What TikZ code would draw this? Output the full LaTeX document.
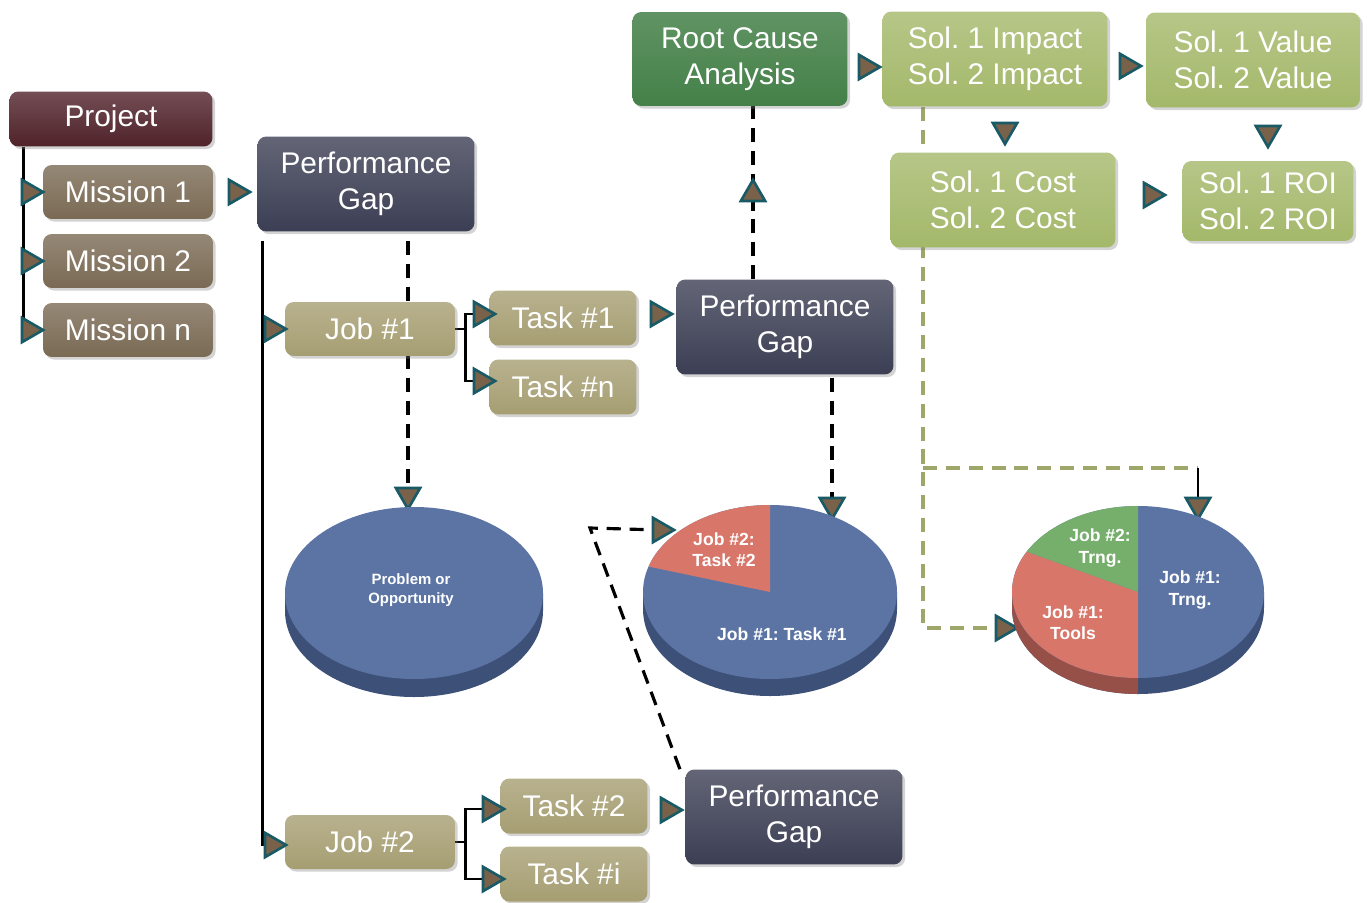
\documentclass[tikz,border=0pt]{standalone}
\usepackage{fontspec}
\setmainfont{Liberation Sans}
\usetikzlibrary{shapes.geometric,shadows,calc}
\frenchspacing

\definecolor{projcol}{RGB}{80,34,42}
\definecolor{miscol}{RGB}{122,106,84}
\definecolor{gapcol}{RGB}{60,63,84}
\definecolor{jobcol}{RGB}{166,158,114}
\definecolor{rootcol}{RGB}{68,128,72}
\definecolor{solcol}{RGB}{164,184,106}
\definecolor{tribrown}{RGB}{122,98,74}
\definecolor{triteal}{RGB}{24,90,102}
\definecolor{pieblue}{RGB}{92,116,164}
\definecolor{pieblued}{RGB}{60,80,120}
\definecolor{piered}{RGB}{216,118,106}
\definecolor{pieredd}{RGB}{150,80,72}
\definecolor{piegreen}{RGB}{118,174,108}
\definecolor{olivedash}{RGB}{158,166,106}

\pgfdeclarelayer{background}
\pgfsetlayers{background,main}

\tikzset{
  box/.style={rounded corners=5pt, text=white, align=center, inner sep=0pt,
    font=\fontsize{17}{20.5}\selectfont,
    drop shadow={opacity=0.35, shadow xshift=1.5pt, shadow yshift=-1.5pt}},
  projbox/.style={box, top color=projcol!80!white, bottom color=projcol,
    minimum width=4.06cm, minimum height=1.1cm},
  misbox/.style={box, top color=miscol!80!white, bottom color=miscol,
    minimum width=3.4cm, minimum height=1.08cm},
  gapbox/.style={box, top color=gapcol!80!white, bottom color=gapcol,
    minimum width=4.34cm, minimum height=1.9cm},
  jobbox/.style={box, top color=jobcol!80!white, bottom color=jobcol,
    minimum width=3.4cm, minimum height=1.08cm},
  taskbox/.style={box, top color=jobcol!80!white, bottom color=jobcol,
    minimum width=2.94cm, minimum height=1.1cm},
  rootbox/.style={box, top color=rootcol!85!white, bottom color=rootcol,
    minimum width=4.3cm, minimum height=1.88cm},
  solbox/.style={box, top color=solcol!80!white, bottom color=solcol,
    minimum width=4.5cm, minimum height=1.9cm},
  tri/.style={regular polygon, regular polygon sides=3, inner sep=0pt,
    minimum size=16pt, draw=triteal, fill=tribrown, line width=1.5pt},
  trir/.style={tri, shape border rotate=-90},
  trid/.style={tri, shape border rotate=180},
  triu/.style={tri},
  line/.style={draw=black, line width=1.6pt},
  dline/.style={draw=black, line width=1.8pt, dash pattern=on 8pt off 5pt},
  oline/.style={draw=olivedash, line width=1.8pt, dash pattern=on 8pt off 5pt},
  pietext/.style={text=white, align=center, font=\bfseries\fontsize{10}{12}\selectfont}
}

\begin{document}
\begin{tikzpicture}[x=0.02cm,y=0.02cm]
\useasboundingbox (0,0) rectangle (1367,-903);

% left column
\node[projbox] (proj) at (111,-119) {Project};
\node[misbox] (mis1) at (128,-192) {Mission 1};
\node[misbox] (mis2) at (128,-261) {Mission 2};
\node[misbox] (misn) at (128,-330) {Mission n};
\node[trir] (tm1) at (29,-192) {};
\node[trir] (tm2) at (29,-261) {};
\node[trir] (tmn) at (29,-330) {};
\node[trir] (tpg1) at (236,-192) {};

% job #1 branch
\node[gapbox] (pg1) at (366,-184) {Performance\\Gap};
\node[jobbox] (job1) at (370,-329) {Job \#1};
\node[taskbox] (task1) at (563,-318) {Task \#1};
\node[taskbox] (taskn) at (563,-387) {Task \#n};
\node[gapbox] (pg2) at (785,-327) {Performance\\Gap};
\node[trir] (tj1) at (272,-329) {};
\node[trir] (tt1) at (481,-314) {};
\node[trir] (ttn) at (481,-381) {};
\node[trir] (tpg2) at (658,-314) {};

% job #2 branch
\node[jobbox] (job2) at (370,-842) {Job \#2};
\node[taskbox] (task2) at (574,-806) {Task \#2};
\node[taskbox] (taski) at (574,-874) {Task \#i};
\node[gapbox] (pg3) at (794,-817) {Performance\\Gap};
\node[trir] (tj2) at (272,-845) {};
\node[trir] (tt2) at (490,-809) {};
\node[trir] (tti) at (490,-879) {};
\node[trir] (tpg3) at (668,-810) {};

% solutions
\node[rootbox] (rca) at (740,-59) {Root Cause\\Analysis};
\node[solbox] (imp) at (995,-59) {Sol. 1 Impact\\Sol. 2 Impact};
\node[solbox, minimum width=4.28cm] (val) at (1253,-60) {Sol. 1 Value\\Sol. 2 Value};
\node[solbox] (cost) at (1003,-200) {Sol. 1 Cost\\Sol. 2 Cost};
\node[solbox, minimum width=3.42cm, minimum height=1.6cm] (roi) at (1268,-201) {Sol. 1 ROI\\Sol. 2 ROI};
\node[triu] (trca) at (753,-194) {};
\node[trir] (timp) at (866,-67) {};
\node[trir] (tval) at (1127,-66) {};
\node[trid] (tcost) at (1005,-130) {};
\node[trid] (troi) at (1268,-133) {};
\node[trir] (troi2) at (1151,-195) {};

% pies
\coordinate (pie1) at (414,-593);
\coordinate (pie2) at (770,-592);
\coordinate (pie3) at (1138,-592);
\node[trid] (tp1) at (408,-495) {};
\node[trid] (tp2) at (832,-505) {};
\node[trir] (tp2l) at (660,-530) {};
\node[trid] (tp3) at (1198,-505) {};
\node[trir] (tp3l) at (1003,-628) {};

\fill[pieblued] ($(pie1)+(-129,0)$) -- ++(0,-18) arc[start angle=180,end angle=360,x radius=129,y radius=86] -- ++(0,18) -- cycle;
\fill[pieblue] (pie1) ellipse[x radius=129,y radius=86];
\node[pietext, font=\bfseries\fontsize{8.5}{10.5}\selectfont] (pt1) at (411,-590) {Problem or\\Opportunity};

\fill[pieblued] ($(pie2)+(-127,0)$) -- ++(0,-17) arc[start angle=180,end angle=360,x radius=127,y radius=87] -- ++(0,17) -- cycle;
\fill[pieblue] (pie2) ellipse[x radius=127,y radius=87];
\fill[piered] (pie2) -- ++(0,87) arc[start angle=90,end angle=163,x radius=127,y radius=87] -- cycle;
\node[pietext] (pt2a) at (724,-550) {Job \#2:\\Task \#2};
\node[pietext] (pt2b) at (782,-634) {Job \#1: Task \#1};

\fill[pieblued] ($(pie3)+(-126,0)$) -- ++(0,-16) arc[start angle=180,end angle=360,x radius=126,y radius=86] -- ++(0,16) -- cycle;
\fill[pieredd] ($(pie3)+(-126,0)$) -- ++(0,-16) arc[start angle=180,end angle=270,x radius=126,y radius=86] -- ++(0,16) arc[start angle=270,end angle=180,x radius=126,y radius=86] -- cycle;
\fill[pieblue] (pie3) ellipse[x radius=126,y radius=86];
\fill[piered] (pie3) -- ++(0,-86) arc[start angle=270,end angle=152,x radius=126,y radius=86] -- cycle;
\fill[piegreen] (pie3) -- ++(0,86) arc[start angle=90,end angle=152,x radius=126,y radius=86] -- cycle;
\node[pietext] (pt3a) at (1100,-548) {Job \#2:\\Trng.};
\node[pietext] (pt3b) at (1190,-590) {Job \#1:\\Trng.};
\node[pietext] (pt3c) at (1073,-623) {Job \#1:\\Tools};

% connectors
\begin{pgfonlayer}{background}
\draw[line] ([xshift=8]proj.south west) |- (tmn);
\draw[line] ([xshift=3]pg1.south west) ++(0,-9) |- (tj2);
\draw[line] (job1.east) -- ++(10,0) |- (tt1);
\draw[line] (job1.east) ++(10,0) |- (ttn);
\draw[line] (job2.east) -- ++(10,0) |- (tt2);
\draw[line] (job2.east) ++(10,0) |- (tti);
\draw[dline] (tp1 |- pg1.south) ++(0,-9) -- (tp1);
\draw[dline] (tp2 |- pg2.south) ++(0,-3) -- (tp2);
\draw[dline] (trca |- pg2.north) -- (trca |- rca.south);
\coordinate (bend) at (590,-528);
\draw[dline] ([xshift=-3]pg3.north west) -- (bend) -- (tp2l);
\coordinate (fork) at (923,-468);
\draw[oline] (fork |- imp.south) -- (fork |- tp3l) -- (tp3l);
\draw[oline] (fork) -- (fork -| tp3);
\draw[line] (fork -| tp3) -- (tp3);
\end{pgfonlayer}

\end{tikzpicture}
\end{document}
